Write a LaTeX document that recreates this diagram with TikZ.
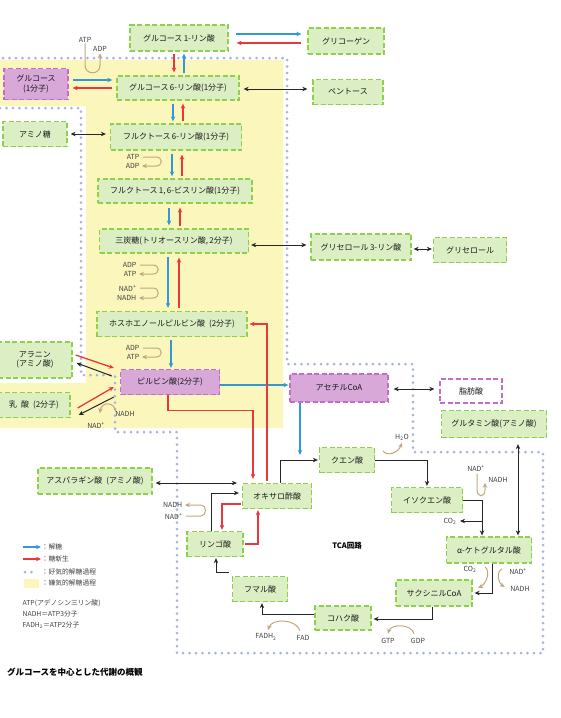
\documentclass[tikz,border=0pt]{standalone}
\usepackage{fontspec}
\setmainfont{Noto Sans CJK JP}
\usetikzlibrary{arrows.meta}
\usetikzlibrary{calc}
\definecolor{boxGreen}{HTML}{DCEFC4}
\definecolor{edgeGreen}{HTML}{8DD14B}
\definecolor{boxPurple}{HTML}{D8A8D9}
\definecolor{edgePurple}{HTML}{C46CC8}
\definecolor{glycBlue}{HTML}{3399D6}
\definecolor{neoRed}{HTML}{E8383D}
\definecolor{cofTan}{HTML}{C2A77E}
\definecolor{aerobDot}{HTML}{A9B3DC}
\definecolor{anaerobYellow}{HTML}{FBF6BC}
\tikzset{>={Stealth[length=5pt,width=4.5pt]}}
\tikzset{
  metabBox/.style={
    draw=edgeGreen,
    fill=boxGreen,
    line width=1.3pt,
    dash pattern=on 5pt off 2.5pt,
    inner sep=1pt,
    align=center,
    text=black!90,
    font=\fontsize{8}{9.5}\selectfont
  },
  keyBox/.style={metabBox, draw=edgePurple, fill=boxPurple},
  lipidBox/.style={metabBox, draw=edgePurple, fill=white},
  glycArrow/.style={->, glycBlue, line width=1.3pt},
  neoArrow/.style={->, neoRed, line width=1.3pt},
  pathArrow/.style={->, black!85, line width=1pt},
  swapArrow/.style={<->, black!85, line width=1pt},
  cofactorArrow/.style={->, cofTan, line width=1pt},
  cofactorText/.style={inner sep=0.5pt, text=black!75, font=\fontsize{7}{8}\selectfont},
  legendText/.style={inner sep=0.5pt, anchor=west, text=black!75, font=\fontsize{6.8}{8}\selectfont},
  aerobicBorder/.style={aerobDot, line width=3pt, line cap=round, dash pattern=on 0pt off 6.5pt}
}

\begin{document}
\begin{tikzpicture}[x=1pt, y=-1pt]
\useasboundingbox (0,0) rectangle (560,718);

% === Anaerobic (yellow) and aerobic (dotted) regions ===
\fill[anaerobYellow] (0,60) -- (283,60) -- (283,428) -- (0,428) -- (0,383)
  -- (86,383) -- (86,106) -- (0,106) -- cycle;
\draw[aerobicBorder] (0,108) -- (81,108) -- (81,375) -- (115,375) -- (115,432)
  -- (177,432) -- (177,653) -- (543,653) -- (543,452) -- (413,452)
  -- (413,364) -- (287,364) -- (287,58) -- (0,58);

% === Metabolites ===
\node[metabBox, minimum width=98pt, minimum height=26pt] (g1p) at (179,38) {グルコース\,1-リン酸};
\node[metabBox, minimum width=76pt, minimum height=26pt] (glycogen) at (346,41) {グリコーゲン};
\node[keyBox, minimum width=64pt, minimum height=31pt] (glucose) at (36,84) {グルコース\\(1分子)};
\node[metabBox, minimum width=122pt, minimum height=24pt] (g6p) at (178,88) {グルコース\,6-リン酸(1分子)};
\node[metabBox, minimum width=70pt, minimum height=25pt] (pentose) at (348,92) {ペントース};
\node[metabBox, minimum width=64pt, minimum height=25pt] (aminoSugar) at (35,134) {アミノ糖};
\node[metabBox, minimum width=131pt, minimum height=26pt] (f6p) at (176,137) {フルクトース\,6-リン酸(1分子)};
\node[metabBox, minimum width=154pt, minimum height=24pt] (f16bp) at (175,191) {フルクトース\,1,\,6-ビスリン酸(1分子)};
\node[metabBox, minimum width=149pt, minimum height=24pt] (triose) at (174,241) {三炭糖(トリオースリン酸,\,2分子)};
\node[metabBox, minimum width=100pt, minimum height=26pt] (gly3p) at (361,247) {グリセロール\,3-リン酸};
\node[metabBox, minimum width=73pt, minimum height=25pt] (glycerol) at (470,250) {グリセロール};
\node[metabBox, minimum width=150pt, minimum height=25pt] (pep) at (172,324) {ホスホエノールピルビン酸\enspace(2分子)};
\node[metabBox, minimum width=74pt, minimum height=36pt] (alanine) at (35,360) {アラニン\\(アミノ酸)};
\node[metabBox, minimum width=72pt, minimum height=25pt] (lactate) at (34,405) {乳\enspace 酸\enspace(2分子)};
\node[keyBox, minimum width=99pt, minimum height=25pt] (pyruvate) at (170,382) {ピルビン酸(2分子)};
\node[keyBox, minimum width=98pt, minimum height=28pt] (acetylCoA) at (339,388) {アセチルCoA};
\node[lipidBox, minimum width=62pt, minimum height=24pt] (fattyAcid) at (471,391) {脂肪酸};
\node[metabBox, minimum width=105pt, minimum height=27pt] (glutamate) at (494,424) {グルタミン酸(アミノ酸)};
\node[metabBox, minimum width=55pt, minimum height=25pt] (citrate) at (347,460) {クエン酸};
\node[metabBox, minimum width=71pt, minimum height=25pt] (isocitrate) at (427,500) {イソクエン酸};
\node[metabBox, minimum width=114pt, minimum height=26pt] (aspartate) at (95,481) {アスパラギン酸\enspace(アミノ酸)};
\node[metabBox, minimum width=69pt, minimum height=25pt] (oxaloacetate) at (277,496) {オキサロ酢酸};
\node[metabBox, minimum width=56pt, minimum height=25pt] (malate) at (215,544) {リンゴ酸};
\node[metabBox, minimum width=55pt, minimum height=25pt] (fumarate) at (260,589) {フマル酸};
\node[metabBox, minimum width=85pt, minimum height=26pt] (akg) at (489,550) {α-ケトグルタル酸};
\node[metabBox, minimum width=76pt, minimum height=26pt] (succinylCoA) at (434,593) {サクシニルCoA};
\node[metabBox, minimum width=56pt, minimum height=24pt] (succinate) at (343,618) {コハク酸};

% === Cofactors ===
\node[cofactorText] (atpTop) at (85,40) {ATP};
\node[cofactorText] (adpTop) at (100,49) {ADP};
\node[cofactorText, anchor=east] (atpF) at (140,157) {ATP};
\node[cofactorText, anchor=east] (adpF) at (140,166) {ADP};
\node[cofactorText, anchor=east] (adpT) at (137,265) {ADP};
\node[cofactorText, anchor=east] (atpT) at (137,274) {ATP};
\node[cofactorText, anchor=east] (nadT) at (137,288) {NAD\textsuperscript{+}};
\node[cofactorText, anchor=east] (nadhT) at (137,298) {NADH};
\node[cofactorText, anchor=east] (adpP) at (140,348) {ADP};
\node[cofactorText, anchor=east] (atpP) at (140,357) {ATP};
\node[cofactorText] (nadhL) at (125,414) {NADH};
\node[cofactorText] (nadL) at (96,425) {NAD\textsuperscript{+}};
\node[cofactorText, anchor=east] (nadhM) at (183,505) {NADH};
\node[cofactorText, anchor=east] (nadM) at (183,516) {NAD\textsuperscript{+}};
\node[cofactorText] (water) at (402,437) {H\textsubscript{2}O};
\node[cofactorText] (nadI) at (476,468) {NAD\textsuperscript{+}};
\node[cofactorText] (nadhI) at (498,480) {NADH};
\node[cofactorText] (co2I) at (450,521) {CO\textsubscript{2}};
\node[cofactorText] (co2K) at (470,569) {CO\textsubscript{2}};
\node[cofactorText] (nadK) at (518,571) {NAD\textsuperscript{+}};
\node[cofactorText] (nadhK) at (520,589) {NADH};
\node[cofactorText] (gtp) at (388,641) {GTP};
\node[cofactorText] (gdp) at (418,641) {GDP};
\node[cofactorText] (fadh) at (266,637) {FADH\textsubscript{2}};
\node[cofactorText] (fad) at (303,638) {FAD};

\node[font=\bfseries\fontsize{7.5}{9}\selectfont] (tca) at (347,546) {TCA回路};

% === Glycogen, glucose, side branches ===
\draw[glycArrow, shorten <=7pt, shorten >=6pt] ($(g1p.east)+(0,-4)$) -- ($(g1p.east -| glycogen.west)+(0,-4)$);
\draw[neoArrow, shorten <=6pt, shorten >=8pt] ($(g1p.east -| glycogen.west)+(0,5)$) -- ($(g1p.east)+(0,5)$);
\draw[neoArrow, shorten <=2pt, shorten >=3pt] ($(g1p.south)+(-5,0)$) -- ($(g1p.south |- g6p.north)+(-5,0)$);
\draw[glycArrow, shorten <=2pt, shorten >=2pt] ($(g1p.south |- g6p.north)+(5,0)$) -- ($(g1p.south)+(5,0)$);
\draw[glycArrow, shorten <=4pt, shorten >=4pt] ($(glucose.east)+(0,-4)$) -- ($(glucose.east -| g6p.west)+(0,-4)$);
\draw[neoArrow, shorten <=4pt, shorten >=4pt] ($(glucose.east -| g6p.west)+(0,4)$) -- ($(glucose.east)+(0,4)$);
\draw[cofactorArrow, shorten >=1pt] (atpTop.south) -- ($(atpTop.south)+(0,22)$)
  .. controls +(0,10) and +(0,10) .. ($(atpTop.south -| adpTop.south)+(0,22)$) -- (adpTop.south);
\draw[swapArrow, shorten <=4pt, shorten >=5pt] ($(g6p.east)+(0,1)$) -- ($(g6p.east -| pentose.west)+(0,1)$);
\draw[swapArrow, shorten <=3pt, shorten >=4pt] (aminoSugar.east) -- (aminoSugar.east -| f6p.west);
\draw[swapArrow, shorten <=2pt, shorten >=4pt] ($(triose.east)+(0,4)$) -- ($(triose.east -| gly3p.west)+(0,4)$);
\draw[swapArrow, shorten <=2pt, shorten >=1pt] ($(gly3p.east)+(0,2)$) -- ($(gly3p.east -| glycerol.west)+(0,2)$);

% === Glycolysis / gluconeogenesis ladder ===
\draw[glycArrow, shorten <=3pt, shorten >=2pt] ($(g6p.south)+(-5,0)$) -- ($(g6p.south |- f6p.north)+(-5,0)$);
\draw[neoArrow, shorten <=2pt, shorten >=3pt] ($(g6p.south |- f6p.north)+(5,0)$) -- ($(g6p.south)+(5,0)$);
\draw[glycArrow, shorten <=3pt, shorten >=2pt] ($(f6p.south)+(-4,0)$) -- ($(f6p.south |- f16bp.north)+(-4,0)$);
\draw[neoArrow, shorten <=2pt, shorten >=4pt] ($(f6p.south |- f16bp.north)+(6,0)$) -- ($(f6p.south)+(6,0)$);
\draw[cofactorArrow] ($(atpF.east)+(3,0)$) -- ($(atpF.east)+(16,0)$)
  .. controls +(7,0) and +(7,0) .. ($(adpF.east)+(16,0)$) -- ($(adpF.east)+(2,0)$);
\draw[glycArrow, shorten <=4pt, shorten >=3pt] ($(f16bp.south)+(-6,0)$) -- ($(f16bp.south |- triose.north)+(-6,0)$);
\draw[neoArrow, shorten <=2pt, shorten >=4pt] ($(f16bp.south |- triose.north)+(5,0)$) -- ($(f16bp.south)+(5,0)$);
\draw[glycArrow, shorten <=3pt, shorten >=3pt] ($(triose.south)+(-6,0)$) -- ($(triose.south |- pep.north)+(-6,0)$);
\draw[neoArrow, shorten <=3pt, shorten >=4pt] ($(triose.south |- pep.north)+(5,0)$) -- ($(triose.south)+(5,0)$);
\draw[cofactorArrow] ($(adpT.east)+(3,0)$) -- ($(adpT.east)+(16,0)$)
  .. controls +(7,0) and +(7,0) .. ($(atpT.east)+(16,0)$) -- ($(atpT.east)+(2,0)$);
\draw[cofactorArrow] ($(nadT.east)+(3,0)$) -- ($(nadT.east)+(16,0)$)
  .. controls +(7,0) and +(7,0) .. ($(nadhT.east)+(16,0)$) -- ($(nadhT.east)+(2,0)$);
\draw[glycArrow, shorten <=3pt, shorten >=1pt] ($(pep.south)+(-1,0)$) -- ($(pep.south |- pyruvate.north)+(-1,0)$);
\draw[cofactorArrow] ($(adpP.east)+(3,0)$) -- ($(adpP.east)+(16,0)$)
  .. controls +(7,0) and +(7,0) .. ($(atpP.east)+(16,0)$) -- ($(atpP.east)+(2,0)$);

% === Around pyruvate ===
\draw[neoArrow] ($(alanine.east)+(3,-5)$) -- ($(pyruvate.west)+(-6,-14)$);
\draw[pathArrow] ($(pyruvate.west)+(-8,-6)$) -- ($(alanine.east)+(4,3)$);
\draw[neoArrow] ($(lactate.east)+(7,3)$) -- ($(pyruvate.west)+(-6,5)$);
\draw[pathArrow] ($(pyruvate.west)+(-6,15)$) -- ($(lactate.east)+(8,10)$);
\draw[cofactorArrow] ($(nadhL.north west)+(1,1)$) .. controls +(-1,-11) and +(1,-11) .. ($(nadL.north)+(4,-8)$);
\draw[glycArrow, shorten >=1pt] ($(pyruvate.east)+(0,3)$) -- ($(pyruvate.east -| acetylCoA.west)+(0,3)$);
\draw[neoArrow, shorten >=4pt] ($(pyruvate.south)+(-2,0)$) -- ++(0,15) -| ($(oxaloacetate.north)+(-24,0)$);
\draw[neoArrow, shorten <=2pt, shorten >=2pt] ($(oxaloacetate.north)+(-10,0)$) |- (pep.east);
\draw[swapArrow, shorten <=5pt, shorten >=5pt] ($(acetylCoA.east)+(0,1)$) -- ($(acetylCoA.east -| fattyAcid.west)+(0,1)$);
\draw[glycArrow, shorten >=5pt] ($(acetylCoA.south)+(-39,0)$) -- ($(acetylCoA.south |- citrate.west)+(-39,0)$);

% === TCA cycle ===
\draw[pathArrow, shorten >=1pt] ($(oxaloacetate.north)+(3,0)$) |- (citrate.west);
\draw[pathArrow, shorten >=1pt] (citrate.east) -| (isocitrate.north);
\draw[cofactorArrow] ($(water.south)+(-19,10)$) .. controls +(4,6) and +(-4,10) .. ($(water.south)+(0,2)$);
\draw[pathArrow, shorten >=1pt] (isocitrate.east) -| ($(akg.north)+(-7,0)$);
\draw[pathArrow, shorten >=3pt] ($(isocitrate.east -| akg.north)+(-7,21)$) -- (co2I.east);
\draw[cofactorArrow] ($(nadI.south)+(1,2)$) -- ($(nadI.south)+(1,18)$)
  .. controls +(0,8) and +(0,8) .. ($(nadI.south)+(9,18)$) -- ($(nadI.south)+(9,11)$);
\draw[swapArrow, shorten <=6pt, shorten >=1pt] ($(glutamate.south)+(24,0)$) -- ($(glutamate.south |- akg.north)+(24,0)$);
\draw[pathArrow, shorten >=2pt] ($(akg.south)+(3,0)$) |- (succinylCoA.east);
\draw[cofactorArrow] ($(co2K.east)+(8,-2)$) .. controls +(6,4) and +(8,-4) .. ($(co2K.east)+(1,19)$);
\draw[cofactorArrow] ($(nadK.west)+(-7,-2)$) .. controls +(-6,4) and +(-6,-4) .. ($(nadK.west)+(-4,16)$);
\draw[pathArrow, shorten >=2pt] ($(succinylCoA.south)+(-2,0)$) |- ($(succinate.east)+(0,1)$);
\draw[cofactorArrow] ($(gdp.north)+(-4,-4)$) .. controls +(-3,-10) and +(3,-10) .. ($(gtp.north)+(0,-4)$);
\draw[pathArrow, shorten >=1pt] ($(succinate.west)+(0,-4)$) -| ($(fumarate.south)+(2,0)$);
\draw[cofactorArrow] ($(fad.north)+(-3,-4)$) .. controls +(-4,-12) and +(4,-12) .. ($(fadh.north)+(2,-3)$);
\draw[pathArrow, shorten >=1pt] ($(fumarate.north west)+(-3,-3)$) -| ($(malate.south)+(1,0)$);
\draw[pathArrow, shorten >=3pt] ($(malate.north)+(-4,0)$) |- ($(oxaloacetate.west)+(0,-3)$);
\draw[cofactorArrow] ($(nadM.east)+(3,0)$) -- ($(nadM.east)+(18,0)$)
  .. controls +(6,0) and +(6,0) .. ($(nadhM.east)+(18,0)$) -- ($(nadhM.east)+(2,0)$);
\draw[neoArrow, shorten <=1pt, shorten >=1pt] ($(oxaloacetate.west)+(0,8)$) -| ($(malate.north)+(7,0)$);
\draw[neoArrow, shorten <=1pt, shorten >=1pt] (malate.east) -| ($(oxaloacetate.south)+(-19,0)$);
\draw[swapArrow, shorten <=3pt, shorten >=5pt] ($(aspartate.east)+(0,2)$) -- ($(aspartate.east -| oxaloacetate.west)+(0,2)$);

% === Legend ===
\node[legendText] (keyGlyc) at (41,547) {：解糖};
\node[legendText] (keyNeo) at (41,559) {：糖新生};
\node[legendText] (keyAerob) at (41,572) {：好気的解糖過程};
\node[legendText] (keyAnaerob) at (41,583) {：嫌気的解糖過程};
\draw[glycArrow] ($(keyGlyc.west)+(-18,0)$) -- (keyGlyc.west);
\draw[neoArrow] ($(keyNeo.west)+(-18,0)$) -- (keyNeo.west);
\draw[aerobicBorder] ($(keyAerob.west)+(-16,0)$) -- ($(keyAerob.west)+(-3,0)$);
\fill[anaerobYellow] ($(keyAnaerob.west)+(-17,-4.5)$) rectangle ($(keyAnaerob.west)+(-2,4.5)$);
\node[legendText] (noteAtp) at (22,603) {ATP(アデノシン三リン酸)};
\node[legendText] (noteNadh) at (22,614) {NADH＝ATP3分子};
\node[legendText] (noteFadh) at (22,625) {FADH\textsubscript{2}＝ATP2分子};

\node[anchor=west, inner sep=0pt, font=\bfseries\fontsize{8.5}{10}\selectfont] (caption) at (7,672) {グルコースを中心とした代謝の概観};

\end{tikzpicture}
\end{document}
